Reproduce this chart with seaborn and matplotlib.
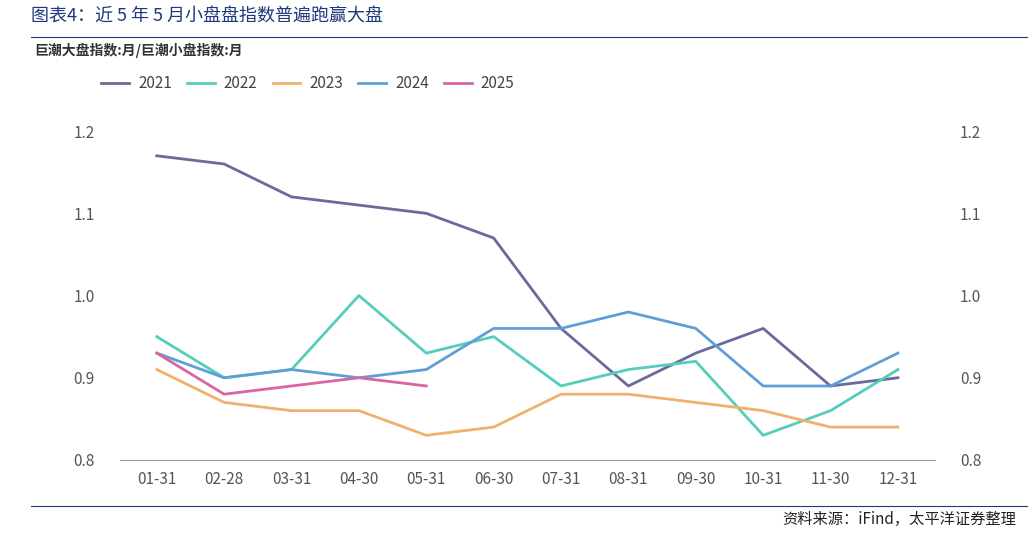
import matplotlib
matplotlib.use("Agg")
import matplotlib.pyplot as plt
import seaborn as sns
import pandas as pd

plt.rcParams["font.family"] = ["Noto Sans CJK SC", "DejaVu Sans"]

months = ["01-31","02-28","03-31","04-30","05-31","06-30","07-31","08-31","09-30","10-31","11-30","12-31"]
y2021 = [1.17,1.16,1.12,1.11,1.10,1.07,0.96,0.89,0.93,0.96,0.89,0.90]
y2022 = [0.95,0.90,0.91,1.00,0.93,0.95,0.89,0.91,0.92,0.83,0.86,0.91]
y2023 = [0.91,0.87,0.86,0.86,0.83,0.84,0.88,0.88,0.87,0.86,0.84,0.84]
y2024 = [0.93,0.90,0.91,0.90,0.91,0.96,0.96,0.98,0.96,0.89,0.89,0.93]
y2025 = [0.93,0.88,0.89,0.90,0.89]
yticks = [0.8, 0.9, 1.0, 1.1, 1.2]

series = {"2021": y2021, "2022": y2022, "2023": y2023, "2024": y2024, "2025": y2025}
colors = {"2021": "#6a6a9c", "2022": "#55cdbd", "2023": "#f0b16e", "2024": "#5f9fd6", "2025": "#d965a2"}
rows = []
for yr, vals in series.items():
    for i, v in enumerate(vals):
        rows.append({"idx": i, "value": v, "year": yr})
df = pd.DataFrame(rows)

fig = plt.figure(figsize=(10.32, 5.33), dpi=100)
ax = fig.add_axes([0.116, 0.137, 0.79, 0.617])
sns.lineplot(data=df, x="idx", y="value", hue="year", palette=colors, ax=ax, linewidth=2, legend=False)
ax.set_xlim(-0.55, 11.55)
ax.set_ylim(0.8, 1.2)
ax.set_yticks(yticks)
ax.set_yticklabels([f"{t:.1f}" for t in yticks])
ax.set_xticks(range(len(months)))
ax.set_xticklabels(months)
ax.set_xlabel(""); ax.set_ylabel("")
for s in ["top", "right", "left"]:
    ax.spines[s].set_visible(False)
ax.spines["bottom"].set_color("#999999")
ax.tick_params(axis="y", length=0, colors="#555555", labelsize=11, pad=18)
ax.tick_params(axis="x", length=0, colors="#555555", labelsize=11, pad=8)
ax2 = ax.twinx()
ax2.set_ylim(0.8, 1.2)
ax2.set_yticks(yticks)
ax2.set_yticklabels([f"{t:.1f}" for t in yticks])
for s in ["top", "right", "left", "bottom"]:
    ax2.spines[s].set_visible(False)
ax2.tick_params(axis="y", length=0, colors="#555555", labelsize=11, pad=18)

from matplotlib.lines import Line2D
handles = [Line2D([0], [0], color=colors[k], lw=2) for k in series]
fig.legend(handles, list(series), loc="upper left", bbox_to_anchor=(0.085, 0.885), ncol=5,
           frameon=False, fontsize=11, handlelength=1.8, handletextpad=0.6, columnspacing=1.0,
           labelcolor="#444444")

fig.text(0.03, 0.97, "图表4：近 5 年 5 月小盘盘指数普遍跑赢大盘", fontsize=13, color="#1f3a7a", va="center")
fig.add_artist(Line2D([0.03, 0.995], [0.93, 0.93], color="#1f3a7a", lw=0.8))
fig.text(0.033, 0.905, "巨潮大盘指数:月/巨潮小盘指数:月", fontsize=10, fontweight="bold", color="#333333", va="center")
fig.add_artist(Line2D([0.03, 0.995], [0.05, 0.05], color="#1f3a7a", lw=0.8))
fig.text(0.985, 0.025, "资料来源：iFind，太平洋证券整理", fontsize=11, style="italic", ha="right", va="center", color="#222222")

fig.savefig("out.png", dpi=100)
